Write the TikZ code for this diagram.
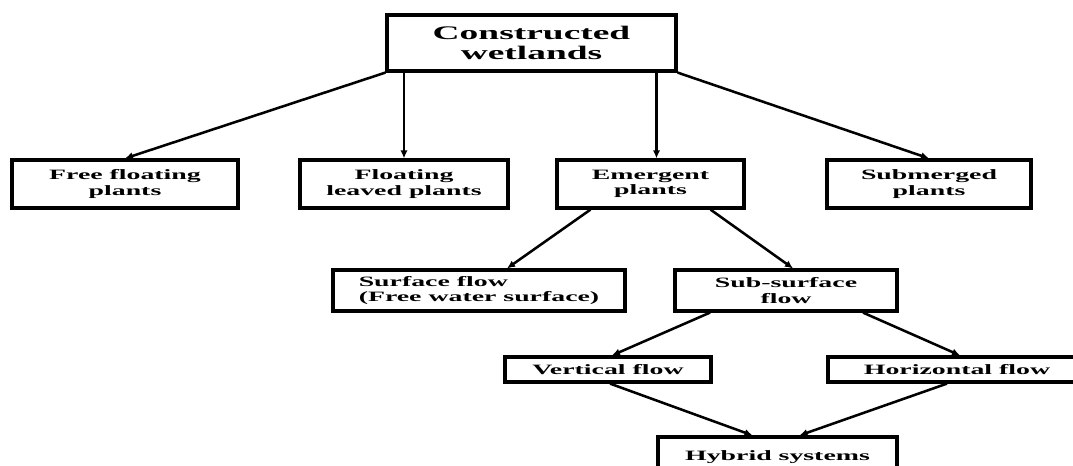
\documentclass[tikz,border=0pt]{standalone}
\usepackage{fontspec}
\setmainfont[FakeStretch=1.95]{Liberation Serif}
\usetikzlibrary{calc,positioning,arrows.meta}

\begin{document}
\begin{tikzpicture}[x=0.75pt,y=-0.75pt,
    box/.style={draw,line width=2.4pt,inner sep=2pt,align=center,
        font=\fontsize{10.7}{11.5}\selectfont\bfseries},
    arr/.style={line width=1.9pt,-{Latex[length=6pt,width=5.5pt]}}]
            \useasboundingbox (0,0) rectangle (1073,466);

            % top level
            \node[box,font=\fontsize{14.4}{15}\selectfont\bfseries,minimum width=216.75pt,minimum height=42pt] (cw) at (531.5,43) {Constructed\\wetlands};

            % plant types
            \node[box,minimum width=169.5pt,minimum height=36pt] (ffp) at (125,184) {Free floating\\plants};
            \node[box,minimum width=156pt,minimum height=36pt]   (flp) at (404,184) {Floating\\leaved plants};
            \node[box,minimum width=140.25pt,minimum height=36pt] (ep) at (650.5,184) {Emergent\\plants};
            \node[box,minimum width=153pt,minimum height=36pt]   (sp)  at (929,184) {Submerged\\plants};

            % flow types
            \node[box,align=left,minimum width=219pt,minimum height=30.75pt] (sfp) at (479,290.5) {Surface flow\\(Free water surface)};
            \node[box,minimum width=166.5pt,minimum height=30.75pt] (ssf) at (786,290.5) {Sub-surface\\flow};

            \node[box,minimum width=154.5pt,minimum height=18.75pt] (vf) at (608,369.5) {Vertical flow};
            \node[box,minimum width=193.5pt,minimum height=18.75pt] (hf) at (957,369.5) {Horizontal flow};

            \node[box,minimum width=179.25pt,minimum height=30pt] (hs) at (777.5,457) {Hybrid systems};

            \begin{scope}[arr]
                \draw (cw.south west) -- (ffp.north);
                \draw (cw.south -| flp.north) -- (flp.north);
                \draw ($(cw.south -| ep.north)+(6,0)$) -- ($(ep.north)+(6,0)$);
                \draw (cw.south east) -- (sp.north);

                \draw ($(ep.south)+(-60,0)$) -- ($(sfp.north)+(28,0)$);
                \draw ($(ep.south)+(60,0)$) -- ($(ssf.north)+(7,0)$);

                \draw ($(ssf.south)+(-76,0)$) -- ($(vf.north)+(4,0)$);
                \draw ($(ssf.south)+(77,0)$) -- ($(hf.north)+(3,0)$);

                \draw ($(vf.south)+(2,0)$) -- ($(hs.north)+(-25,0)$);
                \draw ($(hf.south)+(-10,0)$) -- ($(hs.north)+(22,0)$);
            \end{scope}
        \end{tikzpicture}
\end{document}
